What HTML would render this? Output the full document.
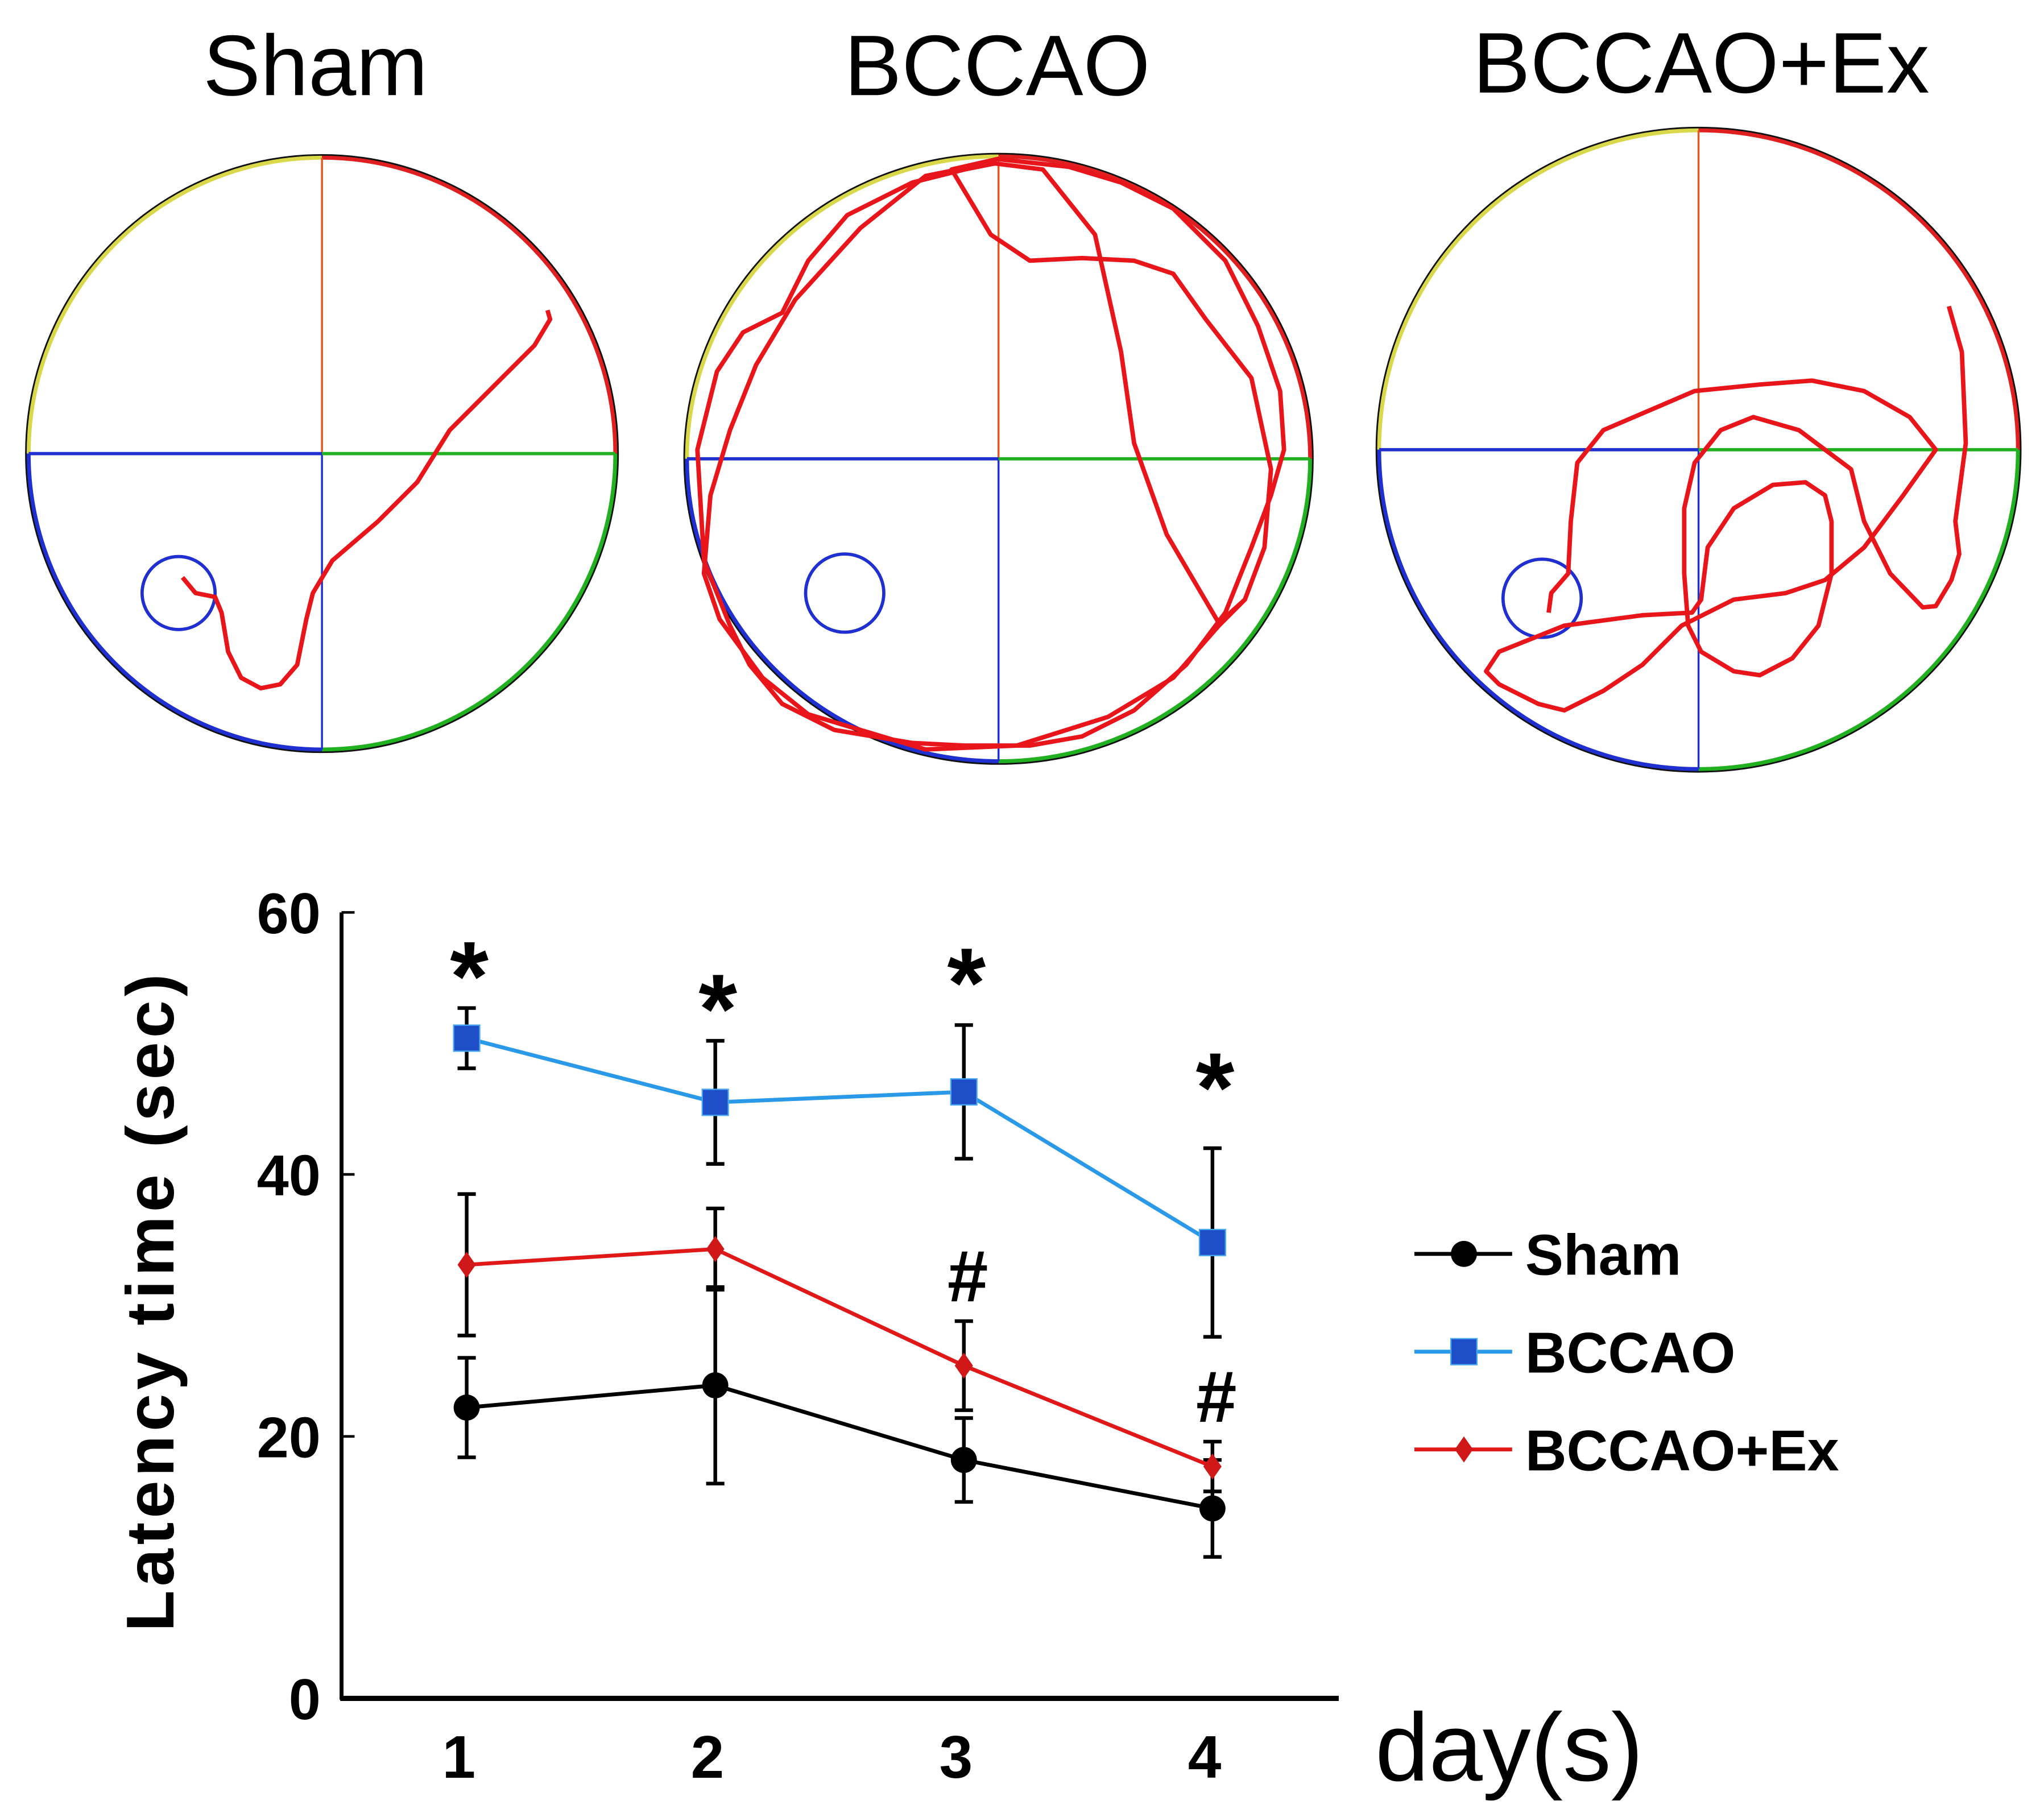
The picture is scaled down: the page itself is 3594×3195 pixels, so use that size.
<!DOCTYPE html>
<html><head><meta charset="utf-8"><style>
html,body{margin:0;padding:0;background:#fff;}
svg{display:block;}
text{font-family:"Liberation Sans",Arial,sans-serif;}
</style></head><body>
<svg id="fig" width="3594" height="3195" viewBox="0 0 1568 1394" preserveAspectRatio="none" xmlns="http://www.w3.org/2000/svg">
<rect width="1568" height="1394" fill="#fff"/>
<g font-size="66" text-anchor="middle">
<text x="242" y="73">Sham</text>
<text x="765" y="73">BCCAO</text>
<text x="1305" y="71">BCCAO+Ex</text>
</g>
<g id="pools"></g>
<g fill="none" stroke="#e8161b" stroke-width="3.4" stroke-linejoin="round">
<path d="M140,443 L150,455 L165,458 L170,470 L175,500 L185,520 L200,528 L215,525 L228,510 L235,475 L240,455 L255,430 L290,400 L320,370 L345,330 L380,295 L410,265 L422,245 L420,238"/>
<path d="M765,125 L740,130 L700,140 L650,165 L620,200 L600,240 L570,255 L550,285 L535,345 L540,430 L560,480 L575,510 L600,540 L640,560 L670,565 L700,570 L740,572 L790,572 L830,565 L870,545 L910,510 L940,470 L960,420 L975,380 L985,345 L982,300 L965,250 L940,200 L900,160 L860,140 L820,128 L765,122 L730,130 L760,180 L790,200 L830,198 L870,200 L900,210 L925,245 L960,290 L975,360 L970,420 L955,460 L935,478 L895,410 L870,340 L860,270 L840,180 L800,130 L760,125 L710,135 L660,175 L610,230 L580,280 L560,330 L545,380 L540,440 L552,475 L585,520 L620,548 L660,560 L710,575 L780,572 L850,550 L900,520 L935,480 L955,460"/>
<path d="M1495,235 L1505,270 L1508,340 L1500,400 L1503,425 L1497,445 L1485,465 L1475,466 L1450,440 L1430,400 L1420,360 L1400,345 L1380,330 L1345,320 L1320,330 L1300,355 L1292,390 L1292,440 L1295,480 L1305,500 L1330,515 L1350,518 L1375,505 L1395,480 L1405,440 L1405,400 L1400,380 L1385,370 L1360,372 L1330,390 L1310,420 L1305,460 L1298,470 L1260,472 L1200,480 L1150,500 L1140,515 L1150,525 L1180,540 L1200,545 L1230,530 L1260,510 L1290,480 L1330,460 L1370,455 L1400,445 L1430,420 L1460,380 L1485,345 L1465,320 L1430,300 L1390,292 L1350,295 L1300,300 L1265,315 L1230,330 L1210,355 L1205,400 L1203,440 L1190,455 L1188,470"/>
</g>
<g id="chart"></g>
</svg>
<script>
const NS='http://www.w3.org/2000/svg';
function mk(tag,attrs,parent,txt){const e=document.createElementNS(NS,tag);for(const k in attrs)e.setAttribute(k,attrs[k]);if(txt!==undefined)e.textContent=txt;parent.appendChild(e);return e;}
const pools=document.getElementById('pools');
const poolDefs=[[247,348,225,227,137,455,28],[766,352,239,232,648,455,30],[1303,345,245,245,1183,459,30]];
const poolNames=['sham','bccao','bccao-ex'];
poolDefs.forEach((p,i)=>{
 const [cx,cy,rx,ry,px,py,pr]=p;
 const g=mk('g',{},pools);
 
 
 const arc=(a0,a1,col)=>{const x0=cx+rx*Math.cos(a0),y0=cy+ry*Math.sin(a0),x1=cx+rx*Math.cos(a1),y1=cy+ry*Math.sin(a1);
  return mk('path',{d:`M${x0},${y0} A${rx},${ry} 0 0 1 ${x1},${y1}`,fill:'none',stroke:col,'stroke-width':3},g);};
 mk('ellipse',{cx:cx,cy:cy,rx:rx+1.5,ry:ry+1.5,fill:'none',stroke:'#111','stroke-width':2.5},g);
 arc(Math.PI,1.5*Math.PI,'#d8d84a');arc(1.5*Math.PI,2*Math.PI,'#e02020');arc(0,0.5*Math.PI,'#20b020');arc(0.5*Math.PI,Math.PI,'#2030d0');
 mk('line',{x1:cx,y1:cy-ry,x2:cx,y2:cy,stroke:'#e05a20','stroke-width':1.5},g);
 mk('line',{x1:cx,y1:cy,x2:cx,y2:cy+ry,stroke:'#2030d0','stroke-width':1.5},g);
 mk('line',{x1:cx-rx,y1:cy,x2:cx,y2:cy,stroke:'#2030d0','stroke-width':2.5},g);
 mk('line',{x1:cx,y1:cy,x2:cx+rx,y2:cy,stroke:'#20b020','stroke-width':2.5},g);
 const pl=mk('circle',{cx:px,cy:py,r:pr,fill:'none',stroke:'#2030d0','stroke-width':2.5},g);
 
 
});
const days=[1,2,3,4];
const yTicks=[0,20,40,60];
const shamMean=[22.2,23.9,18.2,14.5];
const shamErr=[3.8,7.5,3.2,3.7];
const bccaoMean=[50.4,45.5,46.3,34.8];
const bccaoErr=[2.3,4.7,5.1,7.2];
const exMean=[33.1,34.3,25.4,17.7];
const exErr=[5.4,3.1,3.4,1.9];
const starDays=[1,2,3,4];
const starY=[56.5,54,56,48];
const hashDays=[3,4];
const hashY=[32.5,23.3];
const X=d=>358+(d-1)*190.7;
const Y=v=>1303-v*(603/60);
const c=document.getElementById('chart');
const ya=mk('line',{x1:262,y1:Y(60),x2:262,y2:1304,stroke:'#000','stroke-width':3},c);

const xa=mk('line',{x1:261,y1:1303,x2:1027,y2:1303,stroke:'#000','stroke-width':4},c);

yTicks.forEach(t=>{
 mk('line',{x1:262,y1:Y(t),x2:272,y2:Y(t),stroke:'#000','stroke-width':2},c);
 const tl=mk('text',{x:246,y:Y(t)+16,'text-anchor':'end','font-size':44,'font-weight':'bold'},c,String(t));
 
});
days.forEach(d=>{
 const tl=mk('text',{x:X(d)-6,y:1364,'text-anchor':'middle','font-size':46,'font-weight':'bold'},c,String(d));
 
});
const xt=mk('text',{x:1055,y:1366,'font-size':74},c,'day(s)');

const yt=mk('text',{x:0,y:0,'text-anchor':'middle','font-size':52,'font-weight':'bold','letter-spacing':'3',transform:'translate(133,998) rotate(-90)'},c,'Latency time (sec)');

function series(name,mean,err,col,marker){
 const g=mk('g',{},c);
 
 days.forEach((d,i)=>{
  const x=X(d);
  const eb=mk('path',{d:`M${x},${Y(mean[i]+err[i])}V${Y(mean[i]-err[i])}M${x-7},${Y(mean[i]+err[i])}h14M${x-7},${Y(mean[i]-err[i])}h14`,stroke:'#000','stroke-width':2.8,fill:'none'},g);
  
 });
 const pl=mk('polyline',{points:days.map((d,i)=>X(d)+','+Y(mean[i])).join(' '),fill:'none',stroke:col,'stroke-width':3},g);
 
 days.forEach((d,i)=>{
  const m=drawMarker(g,marker,X(d),Y(mean[i]));
  
 });
}
function drawMarker(g,type,x,y){
 if(type==='circle')return mk('circle',{cx:x,cy:y,r:10,fill:'#000'},g);
 if(type==='square')return mk('rect',{x:x-10,y:y-10,width:20,height:20,fill:'#1f4fc8',stroke:'#4aa8f0','stroke-width':1},g);
 return mk('path',{d:`M${x},${y-10}L${x+7},${y}L${x},${y+10}L${x-7},${y}Z`,fill:'#d01818'},g);
}
series('sham',shamMean,shamErr,'#000','circle');
series('bccao-ex',exMean,exErr,'#e01818','diamond');
series('bccao',bccaoMean,bccaoErr,'#2a9ae8','square');
starDays.forEach((d,i)=>{
 const s=mk('text',{x:X(d)+2,y:Y(starY[i])+40,'text-anchor':'middle','font-size':76,'font-weight':'bold'},c,'*');
 
});
hashDays.forEach((d,i)=>{
 const s=mk('text',{x:X(d)+3,y:Y(hashY[i])+22,'text-anchor':'middle','font-size':56,'font-weight':'bold'},c,'#');
 
});
const legNames=['Sham','BCCAO','BCCAO+Ex'];
const legCols=['#000','#2a9ae8','#e01818'];
const legMarks=['circle','square','diamond'];
const lg=mk('g',{},c);

legNames.forEach((n,i)=>{
 const y=962+i*75;
 const e=mk('g',{},lg);
 
 mk('line',{x1:1085,y1:y,x2:1160,y2:y,stroke:legCols[i],'stroke-width':3},e);
 drawMarker(e,legMarks[i],1123,y);
 mk('text',{x:1170,y:y+16,'font-size':44,'font-weight':'bold'},e,n);
});
</script>
</body></html>
